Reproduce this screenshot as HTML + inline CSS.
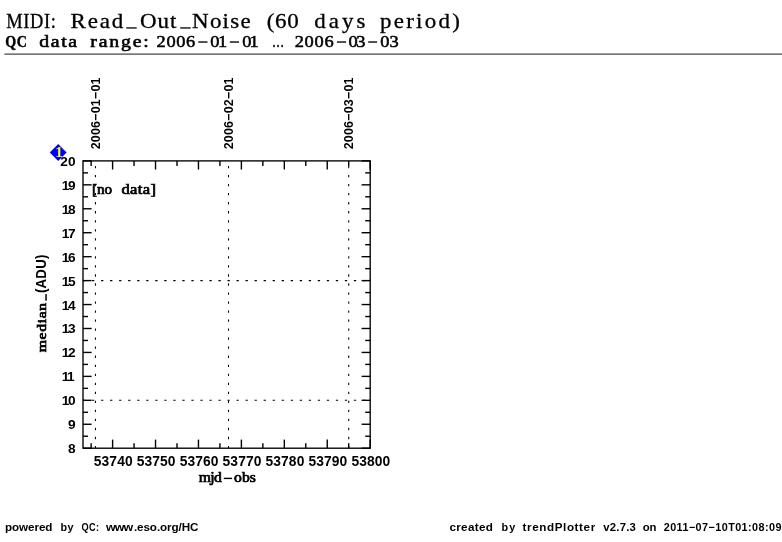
<!DOCTYPE html>
<html><head><meta charset="utf-8"><title>MIDI: Read_Out_Noise</title>
<style>html,body{margin:0;padding:0;background:#fff;}body{width:782px;height:542px;overflow:hidden;font-family:"Liberation Sans",sans-serif;}svg{display:block;will-change:transform;}</style>
</head><body>
<svg width="782" height="542" viewBox="0 0 782 542">
<rect x="0" y="0" width="782" height="542" fill="#fff"/>
<rect x="4.4" y="53.3" width="778" height="1.7" fill="#777"/>
<text transform="translate(6.10,28.30) scale(0.9,1)" x="0.15" y="0" font-size="20.5" font-family="Liberation Serif, serif" letter-spacing="0.690" fill="#000" stroke="#000" stroke-width="0.3">MIDI:</text>
<text transform="translate(70.40,28.30) scale(1.12,1)" x="0.15" y="0" font-size="20.5" font-family="Liberation Serif, serif" letter-spacing="1.633" fill="#000" stroke="#000" stroke-width="0.3">Read</text>
<text transform="translate(139.80,28.30) scale(1.12,1)" x="0.15" y="0" font-size="20.5" font-family="Liberation Serif, serif" letter-spacing="0.857" fill="#000" stroke="#000" stroke-width="0.3">Out</text>
<text transform="translate(191.90,28.30) scale(1.12,1)" x="0.15" y="0" font-size="20.5" font-family="Liberation Serif, serif" letter-spacing="1.115" fill="#000" stroke="#000" stroke-width="0.3">Noise</text>
<text transform="translate(266.70,28.30) scale(1.12,1)" x="0.15" y="0" font-size="20.5" font-family="Liberation Serif, serif" letter-spacing="0.517" fill="#000" stroke="#000" stroke-width="0.3">(60</text>
<text transform="translate(314.20,28.30) scale(1.12,1)" x="0.15" y="0" font-size="20.5" font-family="Liberation Serif, serif" letter-spacing="2.673" fill="#000" stroke="#000" stroke-width="0.3">days</text>
<text transform="translate(379.80,28.30) scale(1.12,1)" x="0.15" y="0" font-size="20.5" font-family="Liberation Serif, serif" letter-spacing="2.018" fill="#000" stroke="#000" stroke-width="0.3">period)</text>
<rect x="126.3" y="27.3" width="10.4" height="1.3" fill="#000"/>
<rect x="180.2" y="27.3" width="10.4" height="1.3" fill="#000"/>
<text transform="translate(5.10,47.40) scale(0.85,1)" x="0.23" y="0" font-size="16.5" font-family="Liberation Serif, serif" font-weight="bold" letter-spacing="0.568" fill="#000" stroke="#000" stroke-width="0.45">QC</text>
<text transform="translate(38.90,47.40) scale(1.2,1)" x="0.28" y="0" font-size="16.5" font-family="Liberation Serif, serif" letter-spacing="1.378" fill="#000" stroke="#000" stroke-width="0.55">data</text>
<text transform="translate(90.00,47.40) scale(1.2,1)" x="0.28" y="0" font-size="16.5" font-family="Liberation Serif, serif" letter-spacing="1.494" fill="#000" stroke="#000" stroke-width="0.55">range:</text>
<text transform="translate(271.70,47.40) scale(0.74,1)" x="0.28" y="0" font-size="16.5" font-family="Liberation Serif, serif" letter-spacing="0.000" fill="#000" stroke="#000" stroke-width="0.55">…</text>
<text transform="translate(156.30,47.30) scale(1.15,1)" x="0.25" y="0" font-size="16" font-family="Liberation Serif, serif" letter-spacing="0.529" fill="#000" stroke="#000" stroke-width="0.5">2006</text>
<text transform="translate(209.90,47.30) scale(1.15,1)" x="0.25" y="0" font-size="16" font-family="Liberation Serif, serif" letter-spacing="-1.283" fill="#000" stroke="#000" stroke-width="0.5">01</text>
<text transform="translate(242.00,47.30) scale(1.15,1)" x="0.25" y="0" font-size="16" font-family="Liberation Serif, serif" letter-spacing="-1.630" fill="#000" stroke="#000" stroke-width="0.5">01</text>
<text transform="translate(294.40,47.30) scale(1.15,1)" x="0.25" y="0" font-size="16" font-family="Liberation Serif, serif" letter-spacing="0.616" fill="#000" stroke="#000" stroke-width="0.5">2006</text>
<text transform="translate(348.10,47.30) scale(1.15,1)" x="0.25" y="0" font-size="16" font-family="Liberation Serif, serif" letter-spacing="-1.196" fill="#000" stroke="#000" stroke-width="0.5">03</text>
<text transform="translate(380.00,47.30) scale(1.15,1)" x="0.25" y="0" font-size="16" font-family="Liberation Serif, serif" letter-spacing="0.109" fill="#000" stroke="#000" stroke-width="0.5">03</text>
<rect x="198.30" y="41.35" width="9.20" height="1.35" fill="#000"/>
<rect x="229.80" y="41.35" width="9.20" height="1.35" fill="#000"/>
<rect x="336.90" y="41.35" width="9.20" height="1.35" fill="#000"/>
<rect x="368.20" y="41.35" width="8.90" height="1.35" fill="#000"/>
<line x1="95.43" y1="448.2" x2="95.43" y2="160.9" stroke="#000" stroke-width="1.05" stroke-dasharray="2.3 6.73" fill="none"/>
<line x1="228.51" y1="448.2" x2="228.51" y2="160.9" stroke="#000" stroke-width="1.05" stroke-dasharray="2.3 6.73" fill="none"/>
<line x1="348.72" y1="448.2" x2="348.72" y2="160.9" stroke="#000" stroke-width="1.05" stroke-dasharray="2.3 6.73" fill="none"/>
<line x1="83.0" y1="400.32" x2="370.2" y2="400.32" stroke="#000" stroke-width="1.05" stroke-dasharray="2.3 6.73" fill="none"/>
<line x1="83.0" y1="280.61" x2="370.2" y2="280.61" stroke="#000" stroke-width="1.05" stroke-dasharray="2.3 6.73" fill="none"/>
<line x1="91.13" y1="448.2" x2="91.13" y2="443.20" stroke="#000" stroke-width="1.4"/>
<line x1="91.13" y1="160.9" x2="91.13" y2="165.90" stroke="#000" stroke-width="1.4"/>
<line x1="112.60" y1="448.2" x2="112.60" y2="439.60" stroke="#000" stroke-width="1.4"/>
<line x1="112.60" y1="160.9" x2="112.60" y2="169.50" stroke="#000" stroke-width="1.4"/>
<line x1="134.06" y1="448.2" x2="134.06" y2="443.20" stroke="#000" stroke-width="1.4"/>
<line x1="134.06" y1="160.9" x2="134.06" y2="165.90" stroke="#000" stroke-width="1.4"/>
<line x1="155.53" y1="448.2" x2="155.53" y2="439.60" stroke="#000" stroke-width="1.4"/>
<line x1="155.53" y1="160.9" x2="155.53" y2="169.50" stroke="#000" stroke-width="1.4"/>
<line x1="177.00" y1="448.2" x2="177.00" y2="443.20" stroke="#000" stroke-width="1.4"/>
<line x1="177.00" y1="160.9" x2="177.00" y2="165.90" stroke="#000" stroke-width="1.4"/>
<line x1="198.46" y1="448.2" x2="198.46" y2="439.60" stroke="#000" stroke-width="1.4"/>
<line x1="198.46" y1="160.9" x2="198.46" y2="169.50" stroke="#000" stroke-width="1.4"/>
<line x1="219.93" y1="448.2" x2="219.93" y2="443.20" stroke="#000" stroke-width="1.4"/>
<line x1="219.93" y1="160.9" x2="219.93" y2="165.90" stroke="#000" stroke-width="1.4"/>
<line x1="241.39" y1="448.2" x2="241.39" y2="439.60" stroke="#000" stroke-width="1.4"/>
<line x1="241.39" y1="160.9" x2="241.39" y2="169.50" stroke="#000" stroke-width="1.4"/>
<line x1="262.86" y1="448.2" x2="262.86" y2="443.20" stroke="#000" stroke-width="1.4"/>
<line x1="262.86" y1="160.9" x2="262.86" y2="165.90" stroke="#000" stroke-width="1.4"/>
<line x1="284.32" y1="448.2" x2="284.32" y2="439.60" stroke="#000" stroke-width="1.4"/>
<line x1="284.32" y1="160.9" x2="284.32" y2="169.50" stroke="#000" stroke-width="1.4"/>
<line x1="305.78" y1="448.2" x2="305.78" y2="443.20" stroke="#000" stroke-width="1.4"/>
<line x1="305.78" y1="160.9" x2="305.78" y2="165.90" stroke="#000" stroke-width="1.4"/>
<line x1="327.25" y1="448.2" x2="327.25" y2="439.60" stroke="#000" stroke-width="1.4"/>
<line x1="327.25" y1="160.9" x2="327.25" y2="169.50" stroke="#000" stroke-width="1.4"/>
<line x1="348.72" y1="448.2" x2="348.72" y2="443.20" stroke="#000" stroke-width="1.4"/>
<line x1="348.72" y1="160.9" x2="348.72" y2="165.90" stroke="#000" stroke-width="1.4"/>
<line x1="370.18" y1="448.2" x2="370.18" y2="439.60" stroke="#000" stroke-width="1.4"/>
<line x1="370.18" y1="160.9" x2="370.18" y2="169.50" stroke="#000" stroke-width="1.4"/>
<line x1="83.0" y1="448.20" x2="91.60" y2="448.20" stroke="#000" stroke-width="1.4"/>
<line x1="370.2" y1="448.20" x2="361.60" y2="448.20" stroke="#000" stroke-width="1.4"/>
<line x1="83.0" y1="436.23" x2="88.00" y2="436.23" stroke="#000" stroke-width="1.4"/>
<line x1="370.2" y1="436.23" x2="365.20" y2="436.23" stroke="#000" stroke-width="1.4"/>
<line x1="83.0" y1="424.26" x2="91.60" y2="424.26" stroke="#000" stroke-width="1.4"/>
<line x1="370.2" y1="424.26" x2="361.60" y2="424.26" stroke="#000" stroke-width="1.4"/>
<line x1="83.0" y1="412.29" x2="88.00" y2="412.29" stroke="#000" stroke-width="1.4"/>
<line x1="370.2" y1="412.29" x2="365.20" y2="412.29" stroke="#000" stroke-width="1.4"/>
<line x1="83.0" y1="400.32" x2="91.60" y2="400.32" stroke="#000" stroke-width="1.4"/>
<line x1="370.2" y1="400.32" x2="361.60" y2="400.32" stroke="#000" stroke-width="1.4"/>
<line x1="83.0" y1="388.35" x2="88.00" y2="388.35" stroke="#000" stroke-width="1.4"/>
<line x1="370.2" y1="388.35" x2="365.20" y2="388.35" stroke="#000" stroke-width="1.4"/>
<line x1="83.0" y1="376.38" x2="91.60" y2="376.38" stroke="#000" stroke-width="1.4"/>
<line x1="370.2" y1="376.38" x2="361.60" y2="376.38" stroke="#000" stroke-width="1.4"/>
<line x1="83.0" y1="364.40" x2="88.00" y2="364.40" stroke="#000" stroke-width="1.4"/>
<line x1="370.2" y1="364.40" x2="365.20" y2="364.40" stroke="#000" stroke-width="1.4"/>
<line x1="83.0" y1="352.43" x2="91.60" y2="352.43" stroke="#000" stroke-width="1.4"/>
<line x1="370.2" y1="352.43" x2="361.60" y2="352.43" stroke="#000" stroke-width="1.4"/>
<line x1="83.0" y1="340.46" x2="88.00" y2="340.46" stroke="#000" stroke-width="1.4"/>
<line x1="370.2" y1="340.46" x2="365.20" y2="340.46" stroke="#000" stroke-width="1.4"/>
<line x1="83.0" y1="328.49" x2="91.60" y2="328.49" stroke="#000" stroke-width="1.4"/>
<line x1="370.2" y1="328.49" x2="361.60" y2="328.49" stroke="#000" stroke-width="1.4"/>
<line x1="83.0" y1="316.52" x2="88.00" y2="316.52" stroke="#000" stroke-width="1.4"/>
<line x1="370.2" y1="316.52" x2="365.20" y2="316.52" stroke="#000" stroke-width="1.4"/>
<line x1="83.0" y1="304.55" x2="91.60" y2="304.55" stroke="#000" stroke-width="1.4"/>
<line x1="370.2" y1="304.55" x2="361.60" y2="304.55" stroke="#000" stroke-width="1.4"/>
<line x1="83.0" y1="292.58" x2="88.00" y2="292.58" stroke="#000" stroke-width="1.4"/>
<line x1="370.2" y1="292.58" x2="365.20" y2="292.58" stroke="#000" stroke-width="1.4"/>
<line x1="83.0" y1="280.61" x2="91.60" y2="280.61" stroke="#000" stroke-width="1.4"/>
<line x1="370.2" y1="280.61" x2="361.60" y2="280.61" stroke="#000" stroke-width="1.4"/>
<line x1="83.0" y1="268.64" x2="88.00" y2="268.64" stroke="#000" stroke-width="1.4"/>
<line x1="370.2" y1="268.64" x2="365.20" y2="268.64" stroke="#000" stroke-width="1.4"/>
<line x1="83.0" y1="256.67" x2="91.60" y2="256.67" stroke="#000" stroke-width="1.4"/>
<line x1="370.2" y1="256.67" x2="361.60" y2="256.67" stroke="#000" stroke-width="1.4"/>
<line x1="83.0" y1="244.70" x2="88.00" y2="244.70" stroke="#000" stroke-width="1.4"/>
<line x1="370.2" y1="244.70" x2="365.20" y2="244.70" stroke="#000" stroke-width="1.4"/>
<line x1="83.0" y1="232.72" x2="91.60" y2="232.72" stroke="#000" stroke-width="1.4"/>
<line x1="370.2" y1="232.72" x2="361.60" y2="232.72" stroke="#000" stroke-width="1.4"/>
<line x1="83.0" y1="220.75" x2="88.00" y2="220.75" stroke="#000" stroke-width="1.4"/>
<line x1="370.2" y1="220.75" x2="365.20" y2="220.75" stroke="#000" stroke-width="1.4"/>
<line x1="83.0" y1="208.78" x2="91.60" y2="208.78" stroke="#000" stroke-width="1.4"/>
<line x1="370.2" y1="208.78" x2="361.60" y2="208.78" stroke="#000" stroke-width="1.4"/>
<line x1="83.0" y1="196.81" x2="88.00" y2="196.81" stroke="#000" stroke-width="1.4"/>
<line x1="370.2" y1="196.81" x2="365.20" y2="196.81" stroke="#000" stroke-width="1.4"/>
<line x1="83.0" y1="184.84" x2="91.60" y2="184.84" stroke="#000" stroke-width="1.4"/>
<line x1="370.2" y1="184.84" x2="361.60" y2="184.84" stroke="#000" stroke-width="1.4"/>
<line x1="83.0" y1="172.87" x2="88.00" y2="172.87" stroke="#000" stroke-width="1.4"/>
<line x1="370.2" y1="172.87" x2="365.20" y2="172.87" stroke="#000" stroke-width="1.4"/>
<line x1="83.0" y1="160.90" x2="91.60" y2="160.90" stroke="#000" stroke-width="1.4"/>
<line x1="370.2" y1="160.90" x2="361.60" y2="160.90" stroke="#000" stroke-width="1.4"/>
<rect x="83.0" y="160.9" width="287.20" height="287.30" fill="none" stroke="#000" stroke-width="1.35"/>
<text transform="translate(93.80,465.70) scale(1.0,1)" x="0.00" y="0" font-size="13.8" font-family="Liberation Sans, sans-serif" font-weight="bold" letter-spacing="0.107" fill="#000">53740</text>
<text transform="translate(136.73,465.70) scale(1.0,1)" x="0.00" y="0" font-size="13.8" font-family="Liberation Sans, sans-serif" font-weight="bold" letter-spacing="0.107" fill="#000">53750</text>
<text transform="translate(179.66,465.70) scale(1.0,1)" x="0.00" y="0" font-size="13.8" font-family="Liberation Sans, sans-serif" font-weight="bold" letter-spacing="0.107" fill="#000">53760</text>
<text transform="translate(222.59,465.70) scale(1.0,1)" x="0.00" y="0" font-size="13.8" font-family="Liberation Sans, sans-serif" font-weight="bold" letter-spacing="0.107" fill="#000">53770</text>
<text transform="translate(265.52,465.70) scale(1.0,1)" x="0.00" y="0" font-size="13.8" font-family="Liberation Sans, sans-serif" font-weight="bold" letter-spacing="0.107" fill="#000">53780</text>
<text transform="translate(308.45,465.70) scale(1.0,1)" x="0.00" y="0" font-size="13.8" font-family="Liberation Sans, sans-serif" font-weight="bold" letter-spacing="0.107" fill="#000">53790</text>
<text transform="translate(351.38,465.70) scale(1.0,1)" x="0.00" y="0" font-size="13.8" font-family="Liberation Sans, sans-serif" font-weight="bold" letter-spacing="0.107" fill="#000">53800</text>
<text transform="translate(68.10,453.20) scale(1.0,1)" x="0.00" y="0" font-size="13.7" font-family="Liberation Sans, sans-serif" font-weight="bold" letter-spacing="0.000" fill="#000">8</text>
<text transform="translate(68.10,429.26) scale(1.0,1)" x="0.00" y="0" font-size="13.7" font-family="Liberation Sans, sans-serif" font-weight="bold" letter-spacing="0.000" fill="#000">9</text>
<text transform="translate(61.70,405.32) scale(1.0,1)" x="0.00" y="0" font-size="13.7" font-family="Liberation Sans, sans-serif" font-weight="bold" letter-spacing="-1.437" fill="#000">10</text>
<text transform="translate(61.70,381.38) scale(1.0,1)" x="0.00" y="0" font-size="13.7" font-family="Liberation Sans, sans-serif" font-weight="bold" letter-spacing="-1.437" fill="#000">11</text>
<text transform="translate(61.70,357.43) scale(1.0,1)" x="0.00" y="0" font-size="13.7" font-family="Liberation Sans, sans-serif" font-weight="bold" letter-spacing="-1.437" fill="#000">12</text>
<text transform="translate(61.70,333.49) scale(1.0,1)" x="0.00" y="0" font-size="13.7" font-family="Liberation Sans, sans-serif" font-weight="bold" letter-spacing="-1.437" fill="#000">13</text>
<text transform="translate(61.70,309.55) scale(1.0,1)" x="0.00" y="0" font-size="13.7" font-family="Liberation Sans, sans-serif" font-weight="bold" letter-spacing="-1.437" fill="#000">14</text>
<text transform="translate(61.70,285.61) scale(1.0,1)" x="0.00" y="0" font-size="13.7" font-family="Liberation Sans, sans-serif" font-weight="bold" letter-spacing="-1.437" fill="#000">15</text>
<text transform="translate(61.70,261.67) scale(1.0,1)" x="0.00" y="0" font-size="13.7" font-family="Liberation Sans, sans-serif" font-weight="bold" letter-spacing="-1.437" fill="#000">16</text>
<text transform="translate(61.70,237.72) scale(1.0,1)" x="0.00" y="0" font-size="13.7" font-family="Liberation Sans, sans-serif" font-weight="bold" letter-spacing="-1.437" fill="#000">17</text>
<text transform="translate(61.70,213.78) scale(1.0,1)" x="0.00" y="0" font-size="13.7" font-family="Liberation Sans, sans-serif" font-weight="bold" letter-spacing="-1.437" fill="#000">18</text>
<text transform="translate(61.70,189.84) scale(1.0,1)" x="0.00" y="0" font-size="13.7" font-family="Liberation Sans, sans-serif" font-weight="bold" letter-spacing="-1.437" fill="#000">19</text>
<text transform="translate(60.30,165.90) scale(1.0,1)" x="0.00" y="0" font-size="13.7" font-family="Liberation Sans, sans-serif" font-weight="bold" letter-spacing="-0.037" fill="#000">20</text>
<text transform="translate(100.13,149.3) rotate(-90) scale(0.96,1)" x="0.00" y="0" font-size="13" font-family="Liberation Sans, sans-serif" font-weight="bold" letter-spacing="0.208" fill="#000">2006−01−01</text>
<text transform="translate(233.21,149.3) rotate(-90) scale(0.96,1)" x="0.00" y="0" font-size="13" font-family="Liberation Sans, sans-serif" font-weight="bold" letter-spacing="0.208" fill="#000">2006−02−01</text>
<text transform="translate(353.42,149.3) rotate(-90) scale(0.96,1)" x="0.00" y="0" font-size="13" font-family="Liberation Sans, sans-serif" font-weight="bold" letter-spacing="0.208" fill="#000">2006−03−01</text>
<text transform="translate(46.2,352.6) rotate(-90) scale(1.2,1)" x="0.35" y="0" font-size="13" font-family="Liberation Serif, serif" letter-spacing="0.574" fill="#000" stroke="#000" stroke-width="0.7">median</text>
<rect x="45.3" y="294.1" width="1.5" height="6.6" fill="#000"/>
<text transform="translate(46.3,293.1) rotate(-90) scale(0.95,1)" x="0.00" y="0" font-size="14" font-family="Liberation Sans, sans-serif" font-weight="bold" letter-spacing="0.218" fill="#000">(ADU)</text>
<text transform="translate(198.40,481.90) scale(1.12,1)" x="0.35" y="0" font-size="14" font-family="Liberation Serif, serif" letter-spacing="-0.570" fill="#000" stroke="#000" stroke-width="0.7">mjd</text>
<rect x="223.8" y="477.7" width="8.3" height="1.4" fill="#000"/>
<text transform="translate(233.70,481.90) scale(1.12,1)" x="0.35" y="0" font-size="14" font-family="Liberation Serif, serif" letter-spacing="0.016" fill="#000" stroke="#000" stroke-width="0.7">obs</text>
<text transform="translate(91.70,194.40) scale(1.08,1)" x="0.35" y="0" font-size="14" font-family="Liberation Serif, serif" letter-spacing="-0.051" fill="#000" stroke="#000" stroke-width="0.7">[no</text>
<text transform="translate(121.00,194.40) scale(1.18,1)" x="0.35" y="0" font-size="14" font-family="Liberation Serif, serif" letter-spacing="0.330" fill="#000" stroke="#000" stroke-width="0.7">data]</text>
<polygon points="58.2,144.1 66.6,152.5 58.2,160.9 49.8,152.5" fill="#0000ff"/>
<text x="59.1" y="157.4" font-size="15" font-family="Liberation Serif, serif" font-weight="bold" text-anchor="middle" fill="#ffff00">1</text>
<text transform="translate(5.00,530.60) scale(1.08,1)" x="0.00" y="0" font-size="10.8" font-family="Liberation Sans, sans-serif" font-weight="bold" letter-spacing="-0.071" fill="#000">powered</text>
<text transform="translate(60.50,530.60) scale(1.0,1)" x="0.00" y="0" font-size="10.8" font-family="Liberation Sans, sans-serif" font-weight="bold" letter-spacing="0.498" fill="#000">by</text>
<text transform="translate(81.60,530.60) scale(0.85,1)" x="0.00" y="0" font-size="10.8" font-family="Liberation Sans, sans-serif" font-weight="bold" letter-spacing="0.337" fill="#000">QC:</text>
<text transform="translate(106.00,530.60) scale(1.15,1)" x="0.03" y="0" font-size="10.8" font-family="Liberation Sans, sans-serif" font-weight="bold" letter-spacing="-0.759" fill="#000">www</text>
<text transform="translate(133.90,530.60) scale(1.08,1)" x="0.00" y="0" font-size="10.8" font-family="Liberation Sans, sans-serif" font-weight="bold" letter-spacing="-0.079" fill="#000">.eso.org/HC</text>
<text transform="translate(449.40,530.60) scale(1.08,1)" x="0.00" y="0" font-size="10.8" font-family="Liberation Sans, sans-serif" font-weight="bold" letter-spacing="0.324" fill="#000">created</text>
<text transform="translate(501.40,530.60) scale(1.0,1)" x="0.00" y="0" font-size="10.8" font-family="Liberation Sans, sans-serif" font-weight="bold" letter-spacing="1.298" fill="#000">by</text>
<text transform="translate(522.60,530.60) scale(1.08,1)" x="0.00" y="0" font-size="10.8" font-family="Liberation Sans, sans-serif" font-weight="bold" letter-spacing="0.547" fill="#000">trendPlotter</text>
<text transform="translate(603.20,530.60) scale(1.05,1)" x="0.00" y="0" font-size="10.8" font-family="Liberation Sans, sans-serif" font-weight="bold" letter-spacing="0.224" fill="#000">v2.7.3</text>
<text transform="translate(642.70,530.60) scale(1.05,1)" x="0.00" y="0" font-size="10.8" font-family="Liberation Sans, sans-serif" font-weight="bold" letter-spacing="-0.148" fill="#000">on</text>
<text transform="translate(663.70,530.60) scale(1.0,1)" x="0.00" y="0" font-size="10.8" font-family="Liberation Sans, sans-serif" font-weight="bold" letter-spacing="0.439" fill="#000">2011−07−10T01:08:09</text>
</svg>
</body></html>
